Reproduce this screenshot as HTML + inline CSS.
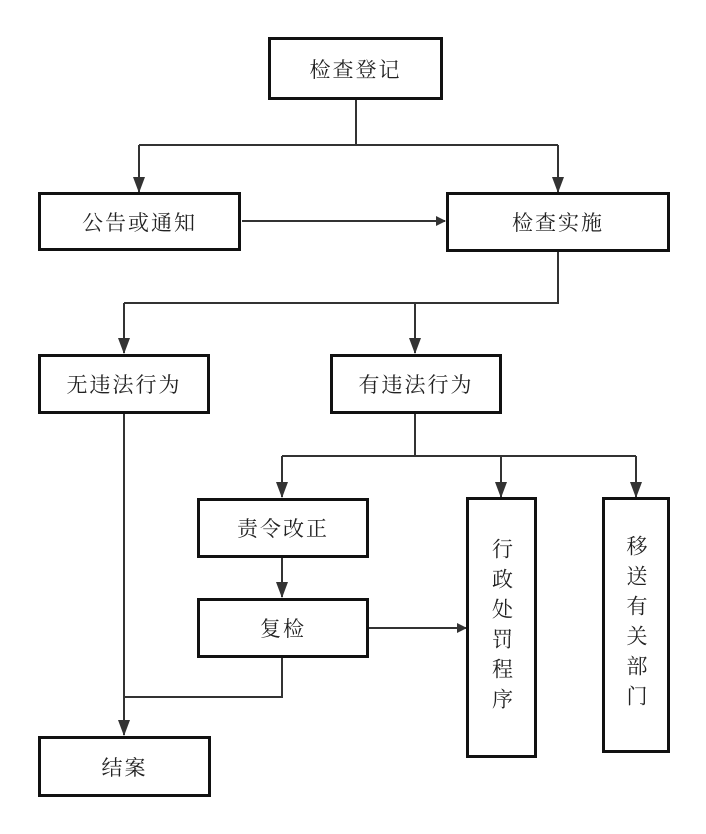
<!DOCTYPE html>
<html><head><meta charset="utf-8"><style>
html,body{margin:0;padding:0;background:#fff;}
body{width:706px;height:834px;position:relative;overflow:hidden;font-family:"Liberation Serif","Noto Serif CJK SC",serif;}
.b{position:absolute;box-sizing:border-box;border:3px solid #111;background:#fff;display:flex;align-items:center;justify-content:center;font-size:21px;color:#222;letter-spacing:2px;}
.v{writing-mode:vertical-rl;letter-spacing:9px;}
svg{position:absolute;left:0;top:0;}
</style></head><body>
<svg width="706" height="834">
<defs><marker id="a" markerWidth="10" markerHeight="10" refX="9" refY="5" orient="auto" markerUnits="userSpaceOnUse"><path d="M0,0 L10,5 L0,10 z" fill="#333"/></marker>
<marker id="d" markerWidth="12" markerHeight="16" refX="6" refY="15" orient="0" markerUnits="userSpaceOnUse"><path d="M0,0 L12,0 L6,16 z" fill="#333"/></marker></defs>
<g stroke="#333" stroke-width="2" fill="none">
<path d="M356 100 V145"/>
<path d="M139 145 H558"/>
<path d="M139 145 V192" marker-end="url(#d)"/>
<path d="M558 145 V192" marker-end="url(#d)"/>
<path d="M242 221 H445" marker-end="url(#a)"/>
<path d="M558 251 V303 H124"/>
<path d="M124 303 V353" marker-end="url(#d)"/>
<path d="M415 303 V353" marker-end="url(#d)"/>
<path d="M415 414 V456"/>
<path d="M282 456 H636"/>
<path d="M282 456 V497" marker-end="url(#d)"/>
<path d="M501 456 V497" marker-end="url(#d)"/>
<path d="M636 456 V497" marker-end="url(#d)"/>
<path d="M282 558 V597" marker-end="url(#d)"/>
<path d="M369 628 H466" marker-end="url(#a)"/>
<path d="M282 658 V697 H124"/>
<path d="M124 414 V735" marker-end="url(#d)"/>
</g></svg>
<div class="b" style="left:268px;top:37px;width:175px;height:63px;">检查登记</div>
<div class="b" style="left:38px;top:192px;width:203px;height:59px;">公告或通知</div>
<div class="b" style="left:446px;top:192px;width:224px;height:60px;">检查实施</div>
<div class="b" style="left:38px;top:354px;width:172px;height:60px;">无违法行为</div>
<div class="b" style="left:330px;top:354px;width:172px;height:60px;">有违法行为</div>
<div class="b" style="left:197px;top:498px;width:172px;height:60px;">责令改正</div>
<div class="b" style="left:197px;top:598px;width:172px;height:60px;">复检</div>
<div class="b v" style="left:466px;top:497px;width:71px;height:261px;">行政处罚程序</div>
<div class="b v" style="left:602px;top:497px;width:68px;height:256px;">移送有关部门</div>
<div class="b" style="left:38px;top:736px;width:173px;height:61px;">结案</div>
</body></html>
